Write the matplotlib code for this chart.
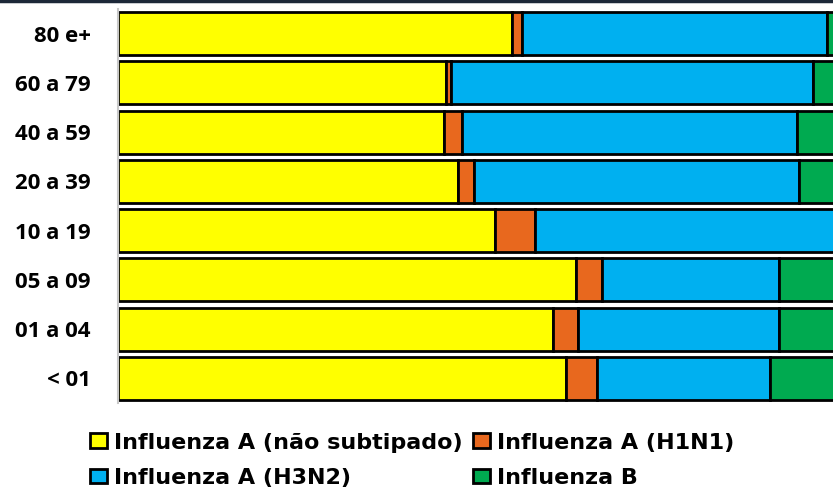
import matplotlib.pyplot as plt
from matplotlib.lines import Line2D

# age groups, bottom to top
faixas = ["< 01", "01 a 04", "05 a 09", "10 a 19", "20 a 39", "40 a 59", "60 a 79", "80 e+"]

# percentages per age group (same order as faixas)
nao_subtipado = [62.0, 60.2, 63.4, 52.2, 47.1, 45.2, 45.4, 54.6]
h1n1 = [4.3, 3.5, 3.6, 5.5, 2.2, 2.4, 0.7, 1.4]
h3n2 = [24.0, 27.8, 24.5, 42.3, 45.0, 46.5, 50.1, 42.2]
influenza_b = [9.7, 8.5, 8.5, 0.0, 5.7, 5.9, 3.8, 1.8]

series = [
    ("Influenza A (não subtipado)", nao_subtipado, "#ffff00"),
    ("Influenza A (H1N1)", h1n1, "#e8681e"),
    ("Influenza A (H3N2)", h3n2, "#00b0f0"),
    ("Influenza B", influenza_b, "#00aa50"),
]

plt.rcParams['font.family'] = ['DejaVu Sans']

fig = plt.figure(figsize=(8.33, 4.9), dpi=100)
# the chart is cropped on the right, so the axes goes past the figure edge
ax = fig.add_axes([118 / 833, 1 - 403 / 490, 722 / 833, 394 / 490])

left = [0.0] * len(faixas)
for name, vals, color in series:
    ax.barh(faixas, vals, left=left, height=0.87, color=color,
            edgecolor="black", linewidth=2, label=name)
    left = [l + v for l, v in zip(left, vals)]

ax.set_xlim(0, 100)
ax.set_ylim(-0.5, len(faixas) - 0.5)
ax.set_xticks([])
ax.tick_params(axis="y", length=0, pad=19.5)
for lbl in ax.get_yticklabels():
    lbl.set_fontweight("bold")
    lbl.set_fontfamily(["Open Sans", "DejaVu Sans"])
    lbl.set_fontsize(16)
for s in ["top", "right", "bottom"]:
    ax.spines[s].set_visible(False)
ax.spines["left"].set_color("#c8c8c8")
ax.spines["left"].set_linewidth(1.5)

# dark line at the very top of the picture
fig.add_artist(Line2D([0, 1], [0.998, 0.998], color="#1c2838", linewidth=2.5,
                      transform=fig.transFigure))

# legend is filled row by row in the reference
handles, labels = ax.get_legend_handles_labels()
order = [0, 2, 1, 3]
fig.legend([handles[i] for i in order], [labels[i] for i in order],
           loc="upper left", bbox_to_anchor=(74 / 833, 1 - 417 / 490),
           ncol=2, frameon=False, prop={"weight": "bold", "size": 16},
           handlelength=0.77, handleheight=0.63, handletextpad=0.32,
           columnspacing=0.48, labelspacing=0.68, borderpad=0.2)

fig.savefig("out.png", dpi=100)
